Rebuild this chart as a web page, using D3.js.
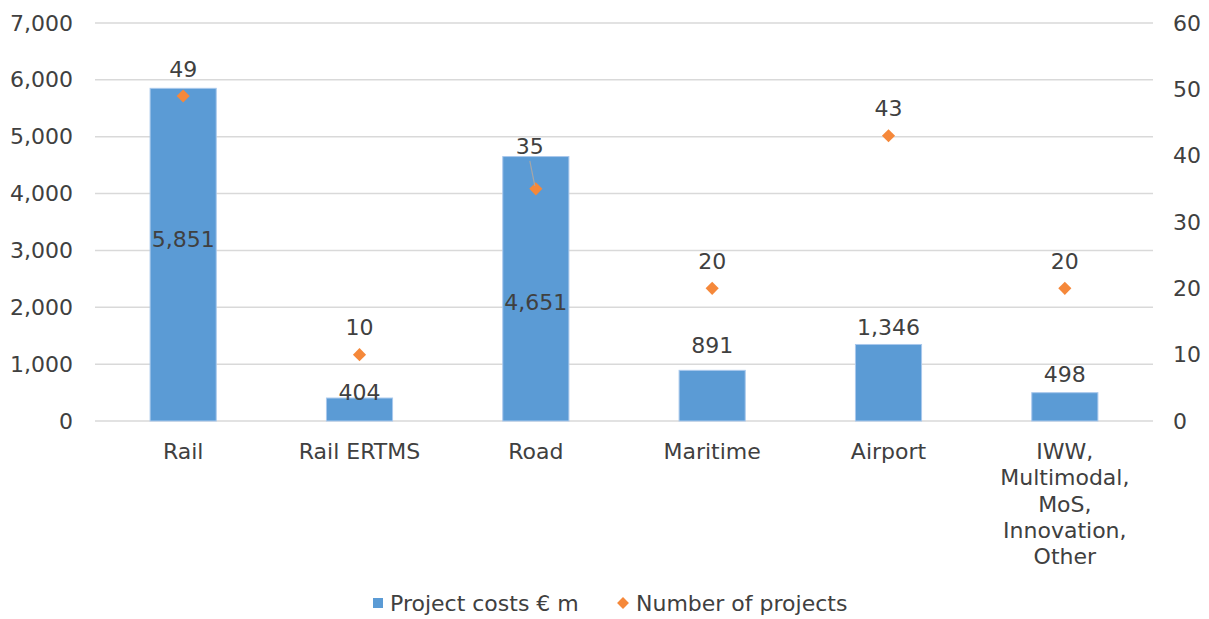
<!DOCTYPE html>
<html>
<head>
<meta charset="utf-8">
<script src="https://cdn.jsdelivr.net/npm/d3@7"></script>
<style>
  body { margin: 0; background: #fff; }
  text { font-family: "DejaVu Sans", Verdana, sans-serif; fill: #404040; }
</style>
</head>
<body>
<div id="chart"></div>
<script>
// chart data
var categories = ["Rail", "Rail ERTMS", "Road", "Maritime", "Airport", "IWW,\nMultimodal,\nMoS,\nInnovation,\nOther"];
var projectCosts = [5851, 404, 4651, 891, 1346, 498];
var projectCounts = [49, 10, 35, 20, 43, 20];
var leftTicks = [0, 1000, 2000, 3000, 4000, 5000, 6000, 7000];
var rightTicks = [0, 10, 20, 30, 40, 50, 60];

var width = 1209, height = 619;
var margin = {top: 23, right: 56, bottom: 198, left: 95};
var plotW = width - margin.left - margin.right,
    plotH = height - margin.top - margin.bottom;
var fs = "22px";

var svg = d3.select("#chart").append("svg")
    .attr("width", width)
    .attr("height", height);

var g = svg.append("g")
    .attr("transform", "translate(" + margin.left + "," + margin.top + ")");

var x = d3.scaleBand()
    .domain(d3.range(categories.length))
    .range([0, plotW])
    .paddingInner(0.625)
    .paddingOuter(0.3125);
var yL = d3.scaleLinear().domain([0, 7000]).range([plotH, 0]);
var yR = d3.scaleLinear().domain([0, 60]).range([plotH, 0]);
var fmt = d3.format(",");

// gridlines
g.append("g")
    .selectAll("line")
    .data(leftTicks)
    .enter().append("line")
    .attr("x1", 0)
    .attr("x2", plotW)
    .attr("y1", d => yL(d))
    .attr("y2", d => yL(d))
    .style("stroke", "#d9d9d9")
    .style("stroke-width", 1.5);

// left axis
var axL = g.append("g")
    .call(d3.axisLeft(yL).tickValues(leftTicks).tickFormat(fmt).tickSize(0).tickPadding(22));
axL.select(".domain").remove();
axL.selectAll("text").style("font-size", fs);

// right axis
var axR = g.append("g")
    .attr("transform", "translate(" + plotW + ",0)")
    .call(d3.axisRight(yR).tickValues(rightTicks).tickSize(0).tickPadding(20));
axR.select(".domain").remove();
axR.selectAll("text").style("font-size", fs);

// bars
g.selectAll(".bar")
    .data(projectCosts)
    .enter().append("rect")
    .attr("class", "bar")
    .attr("x", (d, i) => x(i))
    .attr("width", x.bandwidth())
    .attr("y", d => yL(d))
    .attr("height", d => plotH - yL(d))
    .style("fill", "#5b9bd5")
    .style("stroke", "#a9c8ec")
    .style("stroke-width", 1);

// bar labels, offset from bar top (they were dragged around in the original)
var barLabelOffset = [151, -6, 146, -25, -17, -18];
g.selectAll(".barLabel")
    .data(projectCosts)
    .enter().append("text")
    .attr("class", "barLabel")
    .attr("x", (d, i) => x(i) + x.bandwidth() / 2)
    .attr("y", (d, i) => yL(d) + barLabelOffset[i])
    .attr("dy", "0.35em")
    .attr("text-anchor", "middle")
    .style("font-size", fs)
    .text(d => fmt(d));

// markers
var diamond = d3.symbol().type(d3.symbolDiamond2).size(110);
g.selectAll(".pt")
    .data(projectCounts)
    .enter().append("path")
    .attr("class", "pt")
    .attr("transform", (d, i) => "translate(" + (x(i) + x.bandwidth() / 2) + "," + yR(d) + ")")
    .attr("d", diamond)
    .style("fill", "#f5883a");

// marker labels (Road one moved up with a leader line)
var ptLabelShift = {2: -16};
g.selectAll(".ptLabel")
    .data(projectCounts)
    .enter().append("text")
    .attr("class", "ptLabel")
    .attr("x", (d, i) => x(i) + x.bandwidth() / 2 + (i === 2 ? -6 : 0))
    .attr("y", (d, i) => yR(d) - 27 + (ptLabelShift[i] || 0))
    .attr("dy", "0.35em")
    .attr("text-anchor", "middle")
    .style("font-size", fs)
    .text(d => d);

var cx = x(2) + x.bandwidth() / 2;
g.append("line")
    .attr("x1", cx - 6)
    .attr("y1", yR(projectCounts[2]) - 28)
    .attr("x2", cx - 1)
    .attr("y2", yR(projectCounts[2]) - 3)
    .style("stroke", "#a6a6a6")
    .style("stroke-width", 1.2);

// category labels
var cat = g.append("g")
    .attr("transform", "translate(0," + plotH + ")");
categories.forEach(function (c, i) {
    var t = cat.append("text")
        .attr("x", x(i) + x.bandwidth() / 2)
        .attr("y", 30)
        .attr("text-anchor", "middle")
        .style("font-size", fs);
    c.split("\n").forEach(function (line, j) {
        t.append("tspan")
            .attr("x", x(i) + x.bandwidth() / 2)
            .attr("dy", j === 0 ? "0.35em" : "1.2em")
            .text(line);
    });
});

// legend
var leg = svg.append("g").attr("transform", "translate(0,603)");
leg.append("rect")
    .attr("x", 373).attr("y", -5)
    .attr("width", 10).attr("height", 10)
    .style("fill", "#5b9bd5");
leg.append("text")
    .attr("x", 390).attr("dy", "0.35em")
    .style("font-size", fs)
    .text("Project costs € m");
leg.append("path")
    .attr("transform", "translate(623,0)")
    .attr("d", d3.symbol().type(d3.symbolDiamond2).size(90))
    .style("fill", "#f5883a");
leg.append("text")
    .attr("x", 636).attr("dy", "0.35em")
    .style("font-size", fs)
    .text("Number of projects");
</script>
</body>
</html>
